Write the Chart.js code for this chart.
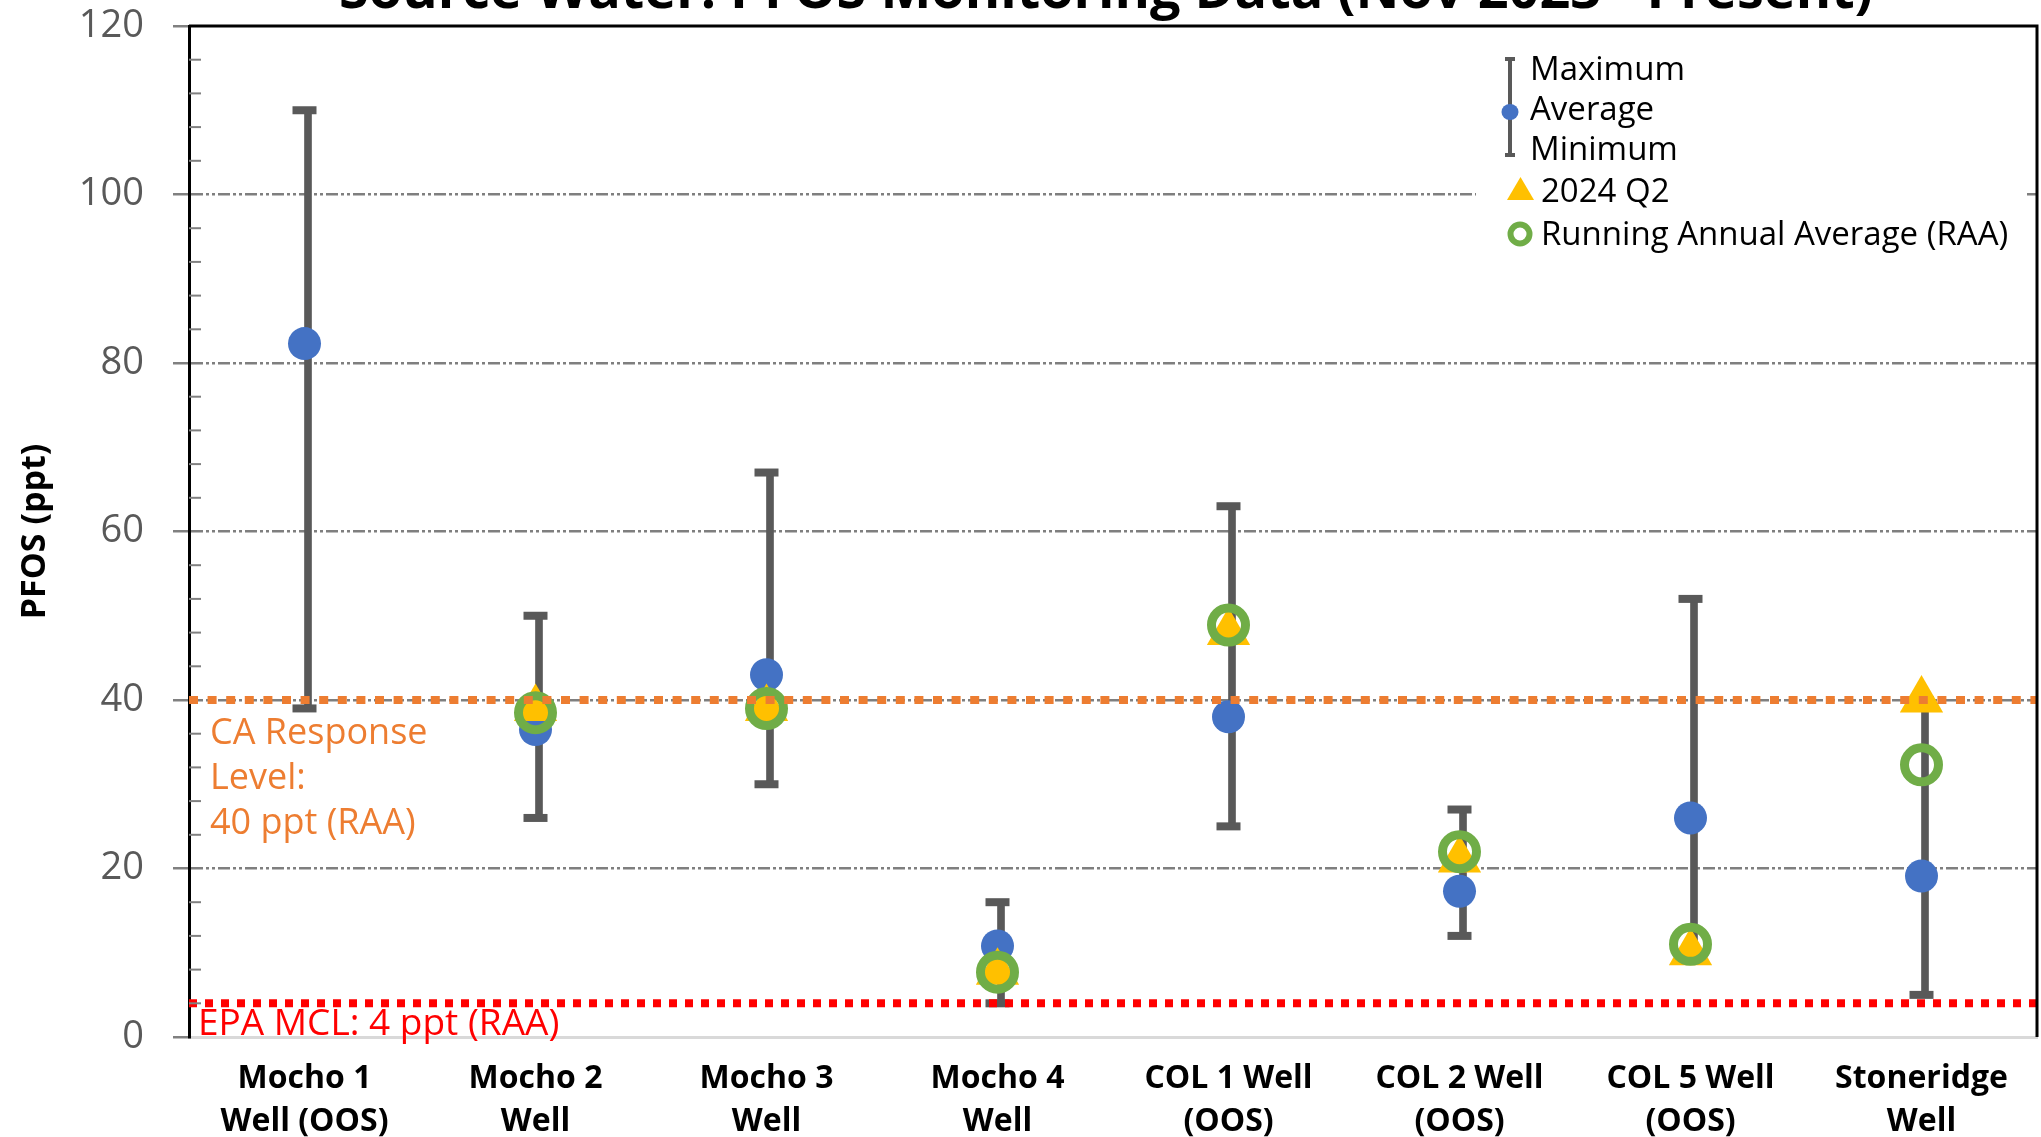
<!DOCTYPE html>
<html>
<head>
<meta charset="utf-8">
<title>Source Water PFOS Monitoring Data</title>
<script src="https://cdn.jsdelivr.net/npm/chart.js@4.4.1/dist/chart.umd.min.js"></script>
<style>
  html, body { margin: 0; padding: 0; background: #fff; overflow: hidden; }
</style>
</head>
<body>
<canvas id="pfoschart" width="2041" height="1137"></canvas>
<script>
// well names (two-line tick labels)
var wells = [
    ['Mocho 1', 'Well (OOS)'],
    ['Mocho 2', 'Well'],
    ['Mocho 3', 'Well'],
    ['Mocho 4', 'Well'],
    ['COL 1 Well', '(OOS)'],
    ['COL 2 Well', '(OOS)'],
    ['COL 5 Well', '(OOS)'],
    ['Stoneridge', 'Well']
];

// PFOS, ppt
var maxPfos = [110, 50, 67, 16, 63, 27, 52, 40];
var avgPfos = [82.3, 36.5, 43, 10.8, 38, 17.3, 26, 19.1];
var minPfos = [39, 26, 30, 4, 25, 12, 10, 5];
var q2Pfos  = [null, 39, 39, 7.7, 48, 21, 10, 40];
var raaPfos = [null, 38.5, 39, 7.7, 48.9, 22, 11, 32.3];

var yTicks = [0, 20, 40, 60, 80, 100, 120];
var caResponseLevel = 40;
var epaMcl = 4;

var GREY = '#595959';
var FONT = '"Open Sans", "Liberation Sans", sans-serif';

var extras = {
    id: 'extras',
    afterDraw: function (chart) {
        var ctx = chart.ctx;
        var a = chart.chartArea;
        var y = chart.scales.y;
        ctx.save();

        // legend box (white, hides the gridline behind it)
        ctx.fillStyle = '#fff';
        ctx.fillRect(1476, 42, 550, 216);
        ctx.fillStyle = GREY;
        ctx.fillRect(1508, 59, 4, 96);
        ctx.fillRect(1505, 57, 10, 4);
        ctx.fillRect(1505, 153, 10, 4);
        ctx.fillStyle = '#4472C4';
        ctx.beginPath();
        ctx.ellipse(1510, 112, 8.5, 8, 0, 0, Math.PI * 2);
        ctx.fill();
        ctx.fillStyle = '#FFC000';
        ctx.beginPath();
        ctx.moveTo(1520.5, 177);
        ctx.lineTo(1507, 200);
        ctx.lineTo(1534, 200);
        ctx.closePath();
        ctx.fill();
        ctx.strokeStyle = '#70AD47';
        ctx.lineWidth = 6;
        ctx.beginPath();
        ctx.arc(1520, 234, 9.5, 0, Math.PI * 2);
        ctx.stroke();

        ctx.fillStyle = '#000';
        ctx.textAlign = 'left';
        ctx.textBaseline = 'alphabetic';
        ctx.font = '33px ' + FONT;
        ctx.fillText('Maximum', 1530, 80);
        ctx.fillText('Average', 1530, 120);
        ctx.fillText('Minimum', 1530, 160);
        ctx.fillText('2024 Q2', 1541, 202);
        ctx.fillText('Running Annual Average (RAA)', 1541, 245);

        // minor ticks (inside)
        ctx.strokeStyle = '#808080';
        ctx.lineWidth = 2;
        for (var v = 4; v < 120; v += 4) {
            if (v % 20 === 0) continue;
            var py = y.getPixelForValue(v);
            ctx.beginPath();
            ctx.moveTo(a.left, py);
            ctx.lineTo(a.left + 12, py);
            ctx.stroke();
        }

        // plot area frame top / right
        ctx.strokeStyle = '#000';
        ctx.lineWidth = 3;
        ctx.beginPath();
        ctx.moveTo(a.left, a.top);
        ctx.lineTo(a.right, a.top);
        ctx.lineTo(a.right, a.bottom);
        ctx.stroke();

        // reference line labels
        ctx.font = '36px ' + FONT;
        ctx.fillStyle = '#ED7D31';
        var yCa = y.getPixelForValue(caResponseLevel);
        ctx.fillText('CA Response', a.left + 21, yCa + 44);
        ctx.fillText('Level:', a.left + 21, yCa + 89);
        ctx.fillText('40 ppt (RAA)', a.left + 21, yCa + 134);
        ctx.font = '37px ' + FONT;
        ctx.fillStyle = '#FF0000';
        ctx.fillText('EPA MCL: 4 ppt (RAA)', a.left + 9, y.getPixelForValue(epaMcl) + 32);

        // title (cut off at the top in the original)
        ctx.font = 'bold 54px ' + FONT;
        ctx.fillStyle = '#000';
        ctx.textAlign = 'center';
        ctx.fillText('Source Water: PFOS Monitoring Data (Nov 2023 - Present)', 1106, 8);

        ctx.restore();
    }
};

function refLine(value) {
    return [{x: 0, y: value}, {x: 1, y: value}];
}

var chart = new Chart(document.getElementById('pfoschart'), {
    type: 'bar',
    data: {
        labels: wells,
        datasets: [
            {
                type: 'line',
                label: 'CA Response Level',
                data: refLine(caResponseLevel),
                xAxisID: 'xRef',
                borderColor: '#ED7D31',
                borderWidth: 8,
                borderDash: [9, 9.6],
                pointRadius: 0,
                order: 1
            },
            {
                type: 'line',
                label: 'EPA MCL',
                data: refLine(epaMcl),
                xAxisID: 'xRef',
                borderColor: '#FF0000',
                borderWidth: 8,
                borderDash: [8, 8],
                pointRadius: 0,
                order: 1
            },
            {
                type: 'line',
                label: 'Running Annual Average (RAA)',
                data: raaPfos,
                showLine: false,
                pointStyle: 'circle',
                pointRadius: 17,
                pointHoverRadius: 17,
                pointBackgroundColor: 'rgba(0,0,0,0)',
                pointBorderColor: '#70AD47',
                pointBorderWidth: 9,
                order: 2
            },
            {
                type: 'line',
                label: '2024 Q2',
                data: q2Pfos,
                showLine: false,
                pointStyle: 'triangle',
                pointRadius: 25,
                pointHoverRadius: 25,
                pointBackgroundColor: '#FFC000',
                pointBorderWidth: 0,
                order: 3
            },
            {
                type: 'line',
                label: 'Average',
                data: avgPfos,
                showLine: false,
                pointStyle: 'circle',
                pointRadius: 16.5,
                pointHoverRadius: 16.5,
                pointBackgroundColor: '#4472C4',
                pointBorderWidth: 0,
                order: 4
            },
            {
                type: 'line',
                label: 'Maximum',
                data: maxPfos,
                showLine: false,
                pointStyle: 'line',
                pointRadius: 12,
                pointHoverRadius: 12,
                pointBorderColor: GREY,
                pointBorderWidth: 8,
                order: 5
            },
            {
                type: 'line',
                label: 'Minimum',
                data: minPfos,
                showLine: false,
                pointStyle: 'line',
                pointRadius: 12,
                pointHoverRadius: 12,
                pointBorderColor: GREY,
                pointBorderWidth: 8,
                order: 5
            },
            {
                type: 'bar',
                label: 'Range',
                data: wells.map(function (w, i) { return [minPfos[i], maxPfos[i]]; }),
                backgroundColor: GREY,
                barThickness: 7,
                order: 6
            }
        ]
    },
    options: {
        responsive: false,
        animation: false,
        layout: {autoPadding: false, padding: {top: 26, right: 4, bottom: 0, left: 0}},
        plugins: {
            legend: {display: false},
            tooltip: {enabled: false}
        },
        scales: {
            x: {
                type: 'category',
                offset: true,
                grid: {display: false, drawTicks: false},
                border: {display: true, color: '#D9D9D9', width: 3},
                ticks: {
                    color: '#000',
                    font: {family: FONT, size: 32, weight: 'bold', lineHeight: 1.35},
                    padding: 20,
                    maxRotation: 0,
                    autoSkip: false
                },
                afterFit: function (s) { s.height = 100; }
            },
            xRef: {
                type: 'linear',
                display: false,
                offset: false,
                grid: {offset: false},
                min: 0,
                max: 1
            },
            y: {
                min: yTicks[0],
                max: yTicks[yTicks.length - 1],
                afterBuildTicks: function (s) {
                    s.ticks = yTicks.map(function (v) { return {value: v}; });
                },
                ticks: {color: GREY, font: {family: FONT, size: 38}, padding: 29},
                grid: {
                    color: function (c) {
                        var v = c.tick ? c.tick.value : null;
                        return (v === 0 || v === 120) ? 'rgba(0,0,0,0)' : '#7f7f7f';
                    },
                    lineWidth: 2.5,
                    tickColor: '#808080',
                    tickLength: 16,
                    tickWidth: 2.5
                },
                border: {display: true, color: '#000', width: 3, dash: [12, 3, 3, 3, 3, 3]},
                title: {
                    display: true,
                    text: 'PFOS (ppt)',
                    color: '#000',
                    font: {family: FONT, size: 34, weight: 'bold'},
                    padding: {top: 15, bottom: 0}
                },
                afterFit: function (s) {
                    s.width = 189;
                    // label padding must not push the plot area down
                    s.paddingTop = 0;
                    s.paddingBottom = 0;
                }
            }
        }
    },
    plugins: [extras]
});
</script>
</body>
</html>
